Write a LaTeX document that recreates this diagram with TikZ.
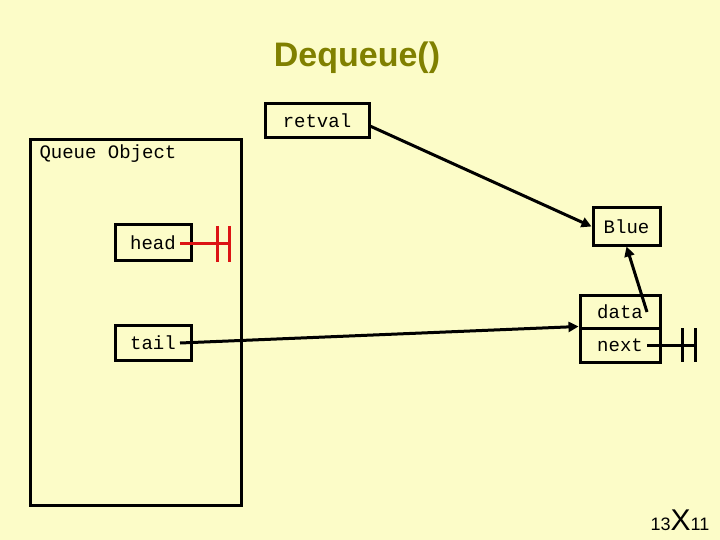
\documentclass[tikz,border=0pt]{standalone}
\usepackage{fontspec}
\setmainfont{Liberation Sans}
\setmonofont{Liberation Mono}
\usetikzlibrary{arrows.meta}
\definecolor{bg}{RGB}{252,252,200}
\definecolor{olive}{RGB}{128,128,0}
\definecolor{gred}{RGB}{220,20,20}
\begin{document}
\begin{tikzpicture}[x=1pt,y=-1pt,
  box/.style={draw,line width=3pt,minimum width=#1,inner sep=0pt,font=\fontsize{19}{19}\selectfont\ttfamily},
  lnk/.style={line width=3pt,-{Triangle[length=10pt,width=10pt]}},
  gnd/.style={line width=3pt}]
\fill[bg] (0,0) rectangle (720,540);
\useasboundingbox (0,0) rectangle (720,540);
\node[font=\bfseries\fontsize{34}{34}\selectfont,text=olive] (title) at (357,58) {Dequeue()};
\node[box=104pt,minimum height=34pt] (retval) at (317,121) {retval};
\node[draw,line width=3pt,minimum width=211pt,minimum height=365pt] (q) at (135.5,322.5) {};
\node[anchor=west,font=\fontsize{19}{19}\selectfont\ttfamily] (ql) at (36,154) {Queue Object};
\node[box=76pt,minimum height=35pt] (head) at (153,242.5) {head};
\node[box=76pt,minimum height=35pt] (tail) at (153,342.5) {tail};
\node[box=67pt,minimum height=37pt] (blue) at (626.5,226.5) {Blue};
\node[box=80pt,minimum height=33pt] (data) at (620,311.5) {data};
\node[box=80pt,minimum height=34pt] (next) at (620,345) {next};
\coordinate (hs) at (180,243);
\coordinate (he) at (229,243);
\draw[gred,gnd] (hs) -- (he);
\draw[gred,gnd] (217,226) -- (217,262) (229,226) -- (229,262);
\coordinate (ns) at (647,345);
\coordinate (ne) at (695,345);
\draw[gnd] (ns) -- (ne);
\draw[gnd] (682,328) -- (682,362) (695,328) -- (695,362);
\coordinate (ts) at (180,343);
\draw[lnk] (ts) -- (next.north west);
\coordinate (rs) at (370,126);
\draw[lnk] (rs) -- (blue.west);
\coordinate (ds) at (647,312);
\draw[lnk] (ds) -- (blue.south);
\node[font=\fontsize{18}{18}\selectfont] (pg) at (680,520) {13\raisebox{0pt}{\fontsize{30}{30}\selectfont X}11};
\end{tikzpicture}
\end{document}
